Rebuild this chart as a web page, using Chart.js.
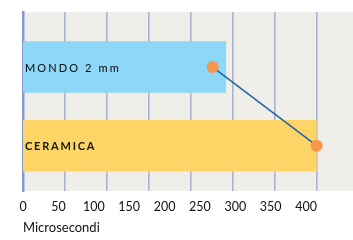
<!DOCTYPE html>
<html>
<head>
<meta charset="utf-8">
<script src="https://cdn.jsdelivr.net/npm/chart.js@4"></script>
<style>
  html, body { margin: 0; padding: 0; background: #ffffff; }
  #wrap { width: 353px; height: 240px; position: relative; }
</style>
</head>
<body>
<div id="wrap"><canvas id="c"></canvas></div>
<script>
const categories = ['MONDO 2 mm', 'CERAMICA'];
const barValues = [287, 415];
const pointValues = [268, 415];
const tickLabels = [0, 50, 100, 150, 200, 250, 300, 350, 400];
const gridValues = [0, 50, 100, 150, 200, 250, 300, 350];
const axisTitle = 'Microsecondi';

const positions = categories.map((_, i) => i);
const barColors = ['#8DD8F8', '#FDD567'];
const labelWeights = ['500', '700'];
const labelSpacing = ['2.1px', '1.8px'];

const bgPlugin = {
  id: 'bg',
  beforeDraw(chart) {
    const a = chart.chartArea, ctx = chart.ctx;
    ctx.save();
    ctx.fillStyle = '#EFEEE8';
    ctx.fillRect(a.left, a.top, a.right - a.left, a.bottom - a.top);
    ctx.restore();
  }
};

const labelPlugin = {
  id: 'barLabels',
  afterDatasetsDraw(chart) {
    const ctx = chart.ctx;
    const meta = chart.getDatasetMeta(0);
    const x0 = chart.scales.x.getPixelForValue(0);
    ctx.save();
    ctx.fillStyle = '#161616';
    ctx.textBaseline = 'middle';
    ctx.textAlign = 'left';
    categories.forEach((name, i) => {
      ctx.font = labelWeights[i] + ' 11px Lato';
      ctx.letterSpacing = labelSpacing[i];
      ctx.fillText(name, x0 + 2, meta.data[i].y + 1);
    });
    ctx.restore();
  }
};

new Chart(document.getElementById('c'), {
  type: 'bar',
  data: {
    datasets: [
      {
        type: 'bar',
        data: positions.map(i => ({ x: barValues[i], y: i })),
        backgroundColor: barColors,
        borderWidth: 0,
        categoryPercentage: 1,
        barPercentage: 0.655,
        xAxisID: 'x',
        yAxisID: 'y',
        order: 2
      },
      {
        type: 'line',
        data: positions.map(i => ({ x: pointValues[i], y: i })),
        borderColor: '#1F62A7',
        borderWidth: 1.5,
        pointRadius: 6,
        pointBackgroundColor: '#F7954A',
        pointBorderWidth: 0,
        fill: false,
        xAxisID: 'x',
        yAxisID: 'y',
        order: 1
      }
    ]
  },
  plugins: [bgPlugin, labelPlugin],
  options: {
    indexAxis: 'y',
    responsive: true,
    maintainAspectRatio: false,
    animation: false,
    layout: { autoPadding: false, padding: { left: 23, right: 0, top: 12, bottom: 4 } },
    plugins: { legend: { display: false }, tooltip: { enabled: false } },
    scales: {
      y: {
        type: 'linear',
        position: 'left',
        reverse: true,
        offset: false,
        min: -0.7,
        max: 1.576,
        z: 1,
        afterBuildTicks(scale) { scale.ticks = positions.map(v => ({ value: v })); },
        ticks: { display: false },
        grid: { display: false, drawTicks: false },
        border: { display: true, color: '#8A98D0', width: 2.5 }
      },
      x: {
        type: 'linear',
        position: 'bottom',
        min: 0,
        max: 466.4,
        afterBuildTicks(scale) { scale.ticks = tickLabels.map(v => ({ value: v })); },
        ticks: {
          font: { family: 'Lato', size: 12.5 },
          color: '#111111',
          padding: 8,
          maxRotation: 0,
          autoSkip: false
        },
        grid: { display: false, drawTicks: false },
        border: { display: false },
        title: {
          display: true,
          text: axisTitle,
          align: 'start',
          color: '#111111',
          font: { family: 'Lato', size: 13 },
          padding: { top: -1.6, bottom: 0 }
        }
      },
      xg: {
        type: 'linear',
        position: 'top',
        min: 0,
        max: 392.9,
        afterBuildTicks(scale) { scale.ticks = gridValues.map(v => ({ value: v })); },
        ticks: { display: false },
        grid: { display: true, drawTicks: false, color: '#A9B3D3', lineWidth: 1.6 },
        border: { display: false }
      }
    }
  }
});
</script>
</body>
</html>
